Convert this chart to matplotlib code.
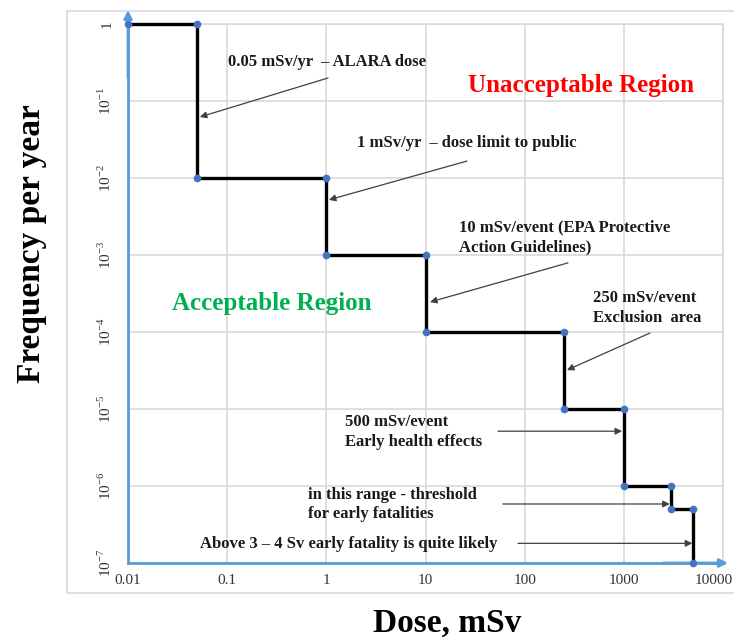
import matplotlib
matplotlib.use("Agg")
import matplotlib.pyplot as plt
from matplotlib.patches import Rectangle
from matplotlib.ticker import FixedLocator, NullLocator
from matplotlib.transforms import ScaledTranslation

plt.rcParams["font.family"] = ["Liberation Serif", "DejaVu Serif"]
plt.rcParams["mathtext.fontset"] = "custom"
plt.rcParams["mathtext.rm"] = "Liberation Serif"

# ---------- Data ----------
dose = [0.01, 0.05, 0.05, 1, 1, 10, 10, 250, 250, 1000, 1000, 3000, 3000, 5000, 5000]
freq = [1, 1, 1e-2, 1e-2, 1e-3, 1e-3, 1e-4, 1e-4, 1e-5, 1e-5, 1e-6, 1e-6, 5e-7, 5e-7, 1e-7]

x_ticks = [0.01, 0.1, 1, 10, 100, 1000, 10000]
x_labels = ["0.01", "0.1", "1", "10", "100", "1000", "10000"]
y_ticks = [1e-7, 1e-6, 1e-5, 1e-4, 1e-3, 1e-2, 1e-1, 1]
y_labels = ["10$^{-7}$", "10$^{-6}$", "10$^{-5}$", "10$^{-4}$",
            "10$^{-3}$", "10$^{-2}$", "10$^{-1}$", "1"]

# (text, text pos, arrow tail, arrow head)
notes = [
    ("0.05 mSv/yr  – ALARA dose", (0.102, 0.32), (1.04, 0.199), (0.053, 0.062)),
    ("1 mSv/yr  – dose limit to public", (2.04, 0.0285), (26.2, 0.0166), (1.06, 0.0052)),
    ("10 mSv/event (EPA Protective\nAction Guidelines)", (21.8, 1.7e-3), (273, 7.9e-4), (11.1, 2.45e-4)),
    ("250 mSv/event\nExclusion  area", (489, 2.05e-4), (1835, 9.7e-5), (267, 3.2e-5)),
    ("500 mSv/event\nEarly health effects", (1.54, 5.0e-6), (53.8, 5.15e-6), (960, 5.15e-6)),
    ("in this range - threshold\nfor early fatalities", (0.653, 5.75e-7), (60.4, 5.84e-7), (2900, 5.84e-7)),
    ("Above 3 – 4 Sv early fatality is quite likely", (0.0532, 1.77e-7), (85.7, 1.8e-7), (4900, 1.8e-7)),
]

BLUE = "#5B9BD5"
GRID = "#d9d9d9"

fig = plt.figure(figsize=(7.34, 6.39), dpi=100)
fig.patches.append(Rectangle((67 / 734, 1 - 593 / 639), 1.0, 582 / 639,
                             transform=fig.transFigure, fill=False,
                             edgecolor=GRID, lw=1.2))
ax = fig.add_axes([128 / 734, 1 - 563 / 639, 595 / 734, 539 / 639])
ax.set_xscale("log")
ax.set_yscale("log")
ax.set_xlim(0.01, 10000)
ax.set_ylim(1e-7, 1)

ax.xaxis.set_major_locator(FixedLocator(x_ticks))
ax.yaxis.set_major_locator(FixedLocator(y_ticks))
ax.xaxis.set_minor_locator(NullLocator())
ax.yaxis.set_minor_locator(NullLocator())
ax.set_xticklabels(x_labels, fontsize=11, color="#333333")
ax.set_yticklabels(y_labels, fontsize=11, color="#333333", rotation=90, va="center")
ax.tick_params(axis="both", length=0)
ax.tick_params(axis="x", pad=8)
ax.tick_params(axis="y", pad=10)
ax.grid(True, color=GRID, lw=1.2)
ax.set_axisbelow(True)

# last x label is pulled in so it stays inside the picture
last = ax.get_xticklabels()[-1]
last.set_transform(last.get_transform() + ScaledTranslation(-0.09, 0, fig.dpi_scale_trans))

for s in ["top", "right"]:
    ax.spines[s].set_color(GRID)
    ax.spines[s].set_linewidth(1.2)
for s in ["left", "bottom"]:
    ax.spines[s].set_color(BLUE)
    ax.spines[s].set_linewidth(2)
    ax.spines[s].set_zorder(5)

# axis arrows
arrow_kw = dict(arrowstyle="-|>", color=BLUE, lw=2, mutation_scale=12,
                shrinkA=0, shrinkB=0)
ax.annotate("", xy=(0, 1 + 14 / 539), xytext=(0, 0.9), xycoords="axes fraction",
            arrowprops=arrow_kw, annotation_clip=False)
ax.annotate("", xy=(1 + 5 / 595, 0), xytext=(0.9, 0), xycoords="axes fraction",
            arrowprops=arrow_kw, annotation_clip=False)

# step curve
ax.plot(dose, freq, color="black", lw=2.4, marker="o", ms=4.5,
        mfc="#4472C4", mec="#4472C4", clip_on=False, zorder=6)

# annotations
for label, txt_pos, tail, head in notes:
    ax.text(txt_pos[0], txt_pos[1], label, fontsize=12, fontweight="bold",
            color="#1a1a1a", ha="left", va="center", linespacing=1.3)
    ax.annotate("", xy=head, xytext=tail,
                arrowprops=dict(arrowstyle="-|>", color="#404040", lw=0.9,
                                mutation_scale=10, shrinkA=0, shrinkB=0))

ax.text(370, 0.157, "Unacceptable Region", fontsize=18, fontweight="bold",
        color="#FF0000", ha="center", va="center")
ax.text(0.283, 2.38e-4, "Acceptable Region", fontsize=18, fontweight="bold",
        color="#00B050", ha="center", va="center")

fig.text(447 / 734, 1 - 623 / 639, "Dose, mSv", fontsize=24, fontweight="bold",
         ha="center", va="center")
fig.text(32 / 734, 1 - 244 / 639, "Frequency per year", fontsize=24,
         fontweight="bold", rotation=90, ha="center", va="center")

fig.savefig("out.png", dpi=100)
